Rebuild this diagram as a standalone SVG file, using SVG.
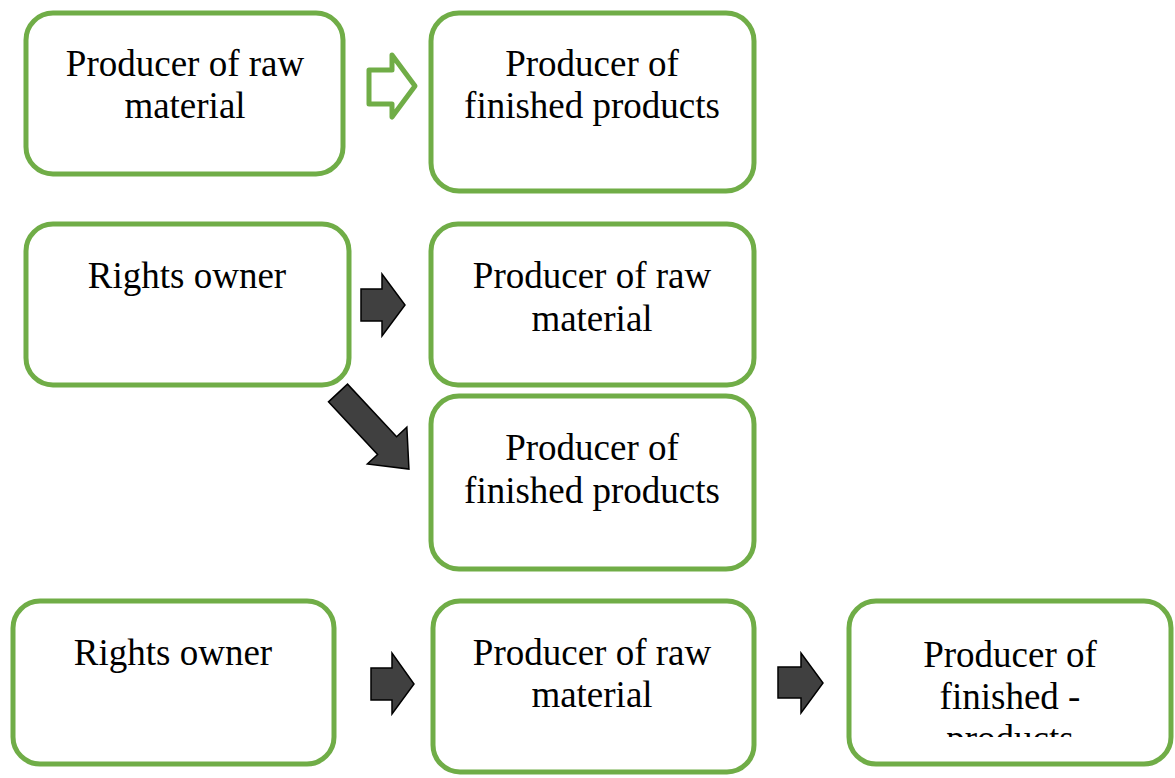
<svg xmlns="http://www.w3.org/2000/svg" width="1175" height="778" viewBox="0 0 1175 778">
  <defs>
    <style>
      .box { fill: #ffffff; stroke: #70AD47; stroke-width: 5; }
      .lbl { font-family: "Liberation Serif", "Times New Roman", serif; font-size: 37px; fill: #000000; text-anchor: middle; }
      .dark { fill: #404040; stroke: #000000; stroke-width: 1.5; stroke-linejoin: miter; }
      .hollow { fill: #ffffff; stroke: #70AD47; stroke-width: 5; stroke-linejoin: round; }
    </style>
    <clipPath id="clip-finished">
      <rect x="850" y="600" width="320" height="137"/>
    </clipPath>
  </defs>
  <rect width="1175" height="778" fill="#ffffff"/>

  <!-- Row 1 -->
  <g id="raw-1">
    <rect class="box" x="26" y="13" width="317" height="161" rx="27"/>
    <text class="lbl" x="185" y="76">Producer of raw</text>
    <text class="lbl" x="185" y="118">material</text>
  </g>
  <g id="finished-1">
    <rect class="box" x="431" y="13" width="323" height="178" rx="28"/>
    <text class="lbl" x="592" y="76">Producer of</text>
    <text class="lbl" x="592" y="118">finished products</text>
  </g>

  <!-- Row 2 -->
  <g id="owner-2">
    <rect class="box" x="26" y="224" width="323" height="161" rx="27"/>
    <text class="lbl" x="187" y="288">Rights owner</text>
  </g>
  <g id="raw-2">
    <rect class="box" x="431" y="224" width="323" height="161" rx="27"/>
    <text class="lbl" x="592" y="288">Producer of raw</text>
    <text class="lbl" x="592" y="331">material</text>
  </g>
  <g id="finished-2">
    <rect class="box" x="431" y="396" width="323" height="173" rx="28"/>
    <text class="lbl" x="592" y="460">Producer of</text>
    <text class="lbl" x="592" y="503">finished products</text>
  </g>

  <!-- Row 3 -->
  <g id="owner-3">
    <rect class="box" x="13" y="601" width="321" height="163" rx="27"/>
    <text class="lbl" x="173" y="665">Rights owner</text>
  </g>
  <g id="raw-3">
    <rect class="box" x="433" y="601" width="321" height="171" rx="27"/>
    <text class="lbl" x="592" y="665">Producer of raw</text>
    <text class="lbl" x="592" y="707">material</text>
  </g>
  <g id="finished-3">
    <rect class="box" x="849" y="601" width="322" height="163" rx="27"/>
    <g clip-path="url(#clip-finished)">
      <text class="lbl" x="1010" y="667">Producer of</text>
      <text class="lbl" x="1010" y="709">finished -</text>
      <text class="lbl" x="1010" y="751">products</text>
    </g>
  </g>

  <!-- Connectors -->
  <g id="connectors">
    <polygon class="hollow" points="369,70 392,70 392,55 415,86 392,117 392,104 369,104"/>
    <polygon class="dark" points="361,289 382,289 382,274 405,305 382,336 382,321 361,321"/>
    <polygon class="dark" transform="translate(338,393) rotate(47)" points="0,-13 72,-13 72,-27 104,0 72,27 72,13 0,13"/>
    <polygon class="dark" points="371,668 392,668 392,653 414,684 392,714 392,700 371,700"/>
    <polygon class="dark" points="778,667 801,667 801,653 823,683 801,713 801,698 778,698"/>
  </g>
</svg>
